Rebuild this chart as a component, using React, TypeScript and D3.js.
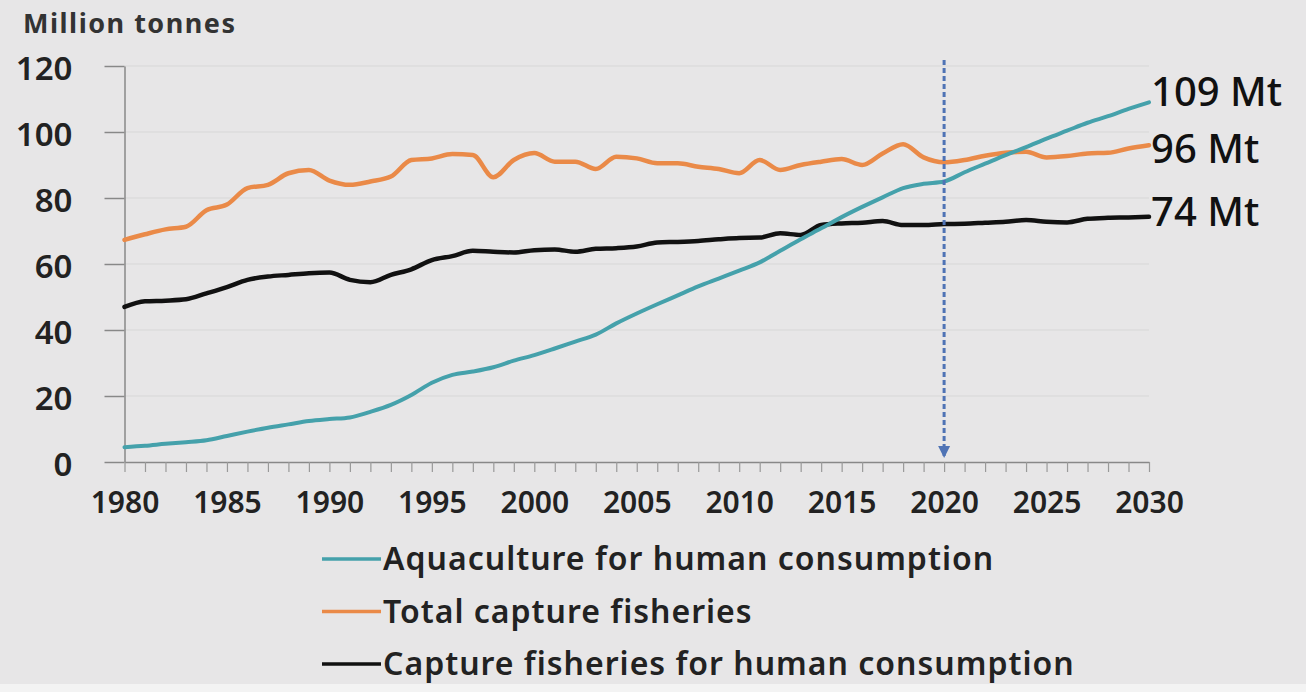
import { useEffect, useRef } from 'react'
import * as d3 from 'd3'

const years = d3.range(1980, 2031)

const aquaculture = [
  4.5, 4.9, 5.5, 6.0, 6.6, 7.9, 9.2, 10.4, 11.4, 12.4,
  13.0, 13.5, 15.2, 17.3, 20.3, 24.0, 26.4, 27.4, 28.7, 30.7,
  32.4, 34.4, 36.5, 38.6, 42.0, 45.0, 47.8, 50.5, 53.2, 55.6,
  58.0, 60.5, 64.0, 67.5, 70.8, 74.2, 77.3, 80.2, 83.0, 84.3,
  85.0, 87.8, 90.4, 93.0, 95.4, 98.0, 100.4, 102.8, 104.8, 107.0, 109.0
]

const totalCapture = [
  67.3, 69.0, 70.5, 71.3, 76.3, 78.0, 83.0, 84.0, 87.5, 88.5,
  85.3, 84.0, 85.0, 86.5, 91.5, 92.0, 93.3, 93.0, 86.3, 91.5,
  93.6, 91.0, 91.0, 88.8, 92.5, 92.0, 90.5, 90.5, 89.5, 88.8,
  87.5, 91.5, 88.5, 90.0, 91.0, 91.8, 90.0, 93.5, 96.3, 92.3,
  90.8, 91.5, 92.8, 93.7, 94.0, 92.3, 92.7, 93.5, 93.7, 95.0, 96.0
]

const captureHuman = [
  47.0, 48.7, 48.9, 49.3, 51.1, 53.0, 55.2, 56.2, 56.7, 57.2,
  57.4, 55.2, 54.5, 56.7, 58.4, 61.2, 62.4, 64.0, 63.7, 63.5,
  64.2, 64.4, 63.7, 64.6, 64.8, 65.3, 66.5, 66.7, 67.0, 67.5,
  67.9, 68.0, 69.3, 68.8, 71.8, 72.3, 72.5, 73.0, 71.8, 71.8,
  72.1, 72.2, 72.5, 72.8, 73.3, 72.8, 72.6, 73.7, 74.0, 74.1, 74.3
]

const yTicks = [0, 20, 40, 60, 80, 100, 120]
const xLabelYears = [1980, 1985, 1990, 1995, 2000, 2005, 2010, 2015, 2020, 2025, 2030]
const endLabels = ['109 Mt', '96 Mt', '74 Mt']
const legendLabels = [
  'Aquaculture for human consumption',
  'Total capture fisheries',
  'Capture fisheries for human consumption'
]
const markerYear = 2020

const W = 1306
const H = 692
const FONT = '"Noto Sans", "DejaVu Sans", sans-serif'

export default function App() {
  const svgRef = useRef<SVGSVGElement>(null)

  useEffect(() => {
    if (!svgRef.current) return
    const svg = d3.select(svgRef.current)
    svg.selectAll('*').remove()

    const margin = { top: 66, right: 157, bottom: 230, left: 124.5 }

    const x = d3.scaleLinear()
      .domain([1980, 2030])
      .range([margin.left, W - margin.right])

    const y = d3.scaleLinear()
      .domain([0, 120])
      .range([H - margin.bottom, margin.top])

    // background
    svg.append('rect')
      .attr('width', W).attr('height', H)
      .attr('fill', '#e7e6e7')
    svg.append('rect')
      .attr('y', 684).attr('width', W).attr('height', H - 684)
      .attr('fill', '#f3f3f3')

    // grid lines
    svg.append('g')
      .selectAll('line')
      .data(yTicks.filter(d => d > 0))
      .join('line')
      .attr('x1', x(1980)).attr('x2', x(2030))
      .attr('y1', d => y(d)).attr('y2', d => y(d))
      .attr('stroke', '#d7d7d7')
      .attr('stroke-width', 1)

    // y axis
    const yAxis = svg.append('g')
      .attr('transform', `translate(${x(1980)},0)`)
      .call(d3.axisLeft(y).tickValues(yTicks).tickSize(20).tickSizeOuter(0).tickPadding(32))
    yAxis.select('.domain').attr('stroke', '#888').attr('stroke-width', 1.5)
    yAxis.selectAll('.tick line').attr('stroke', '#888').attr('stroke-width', 1.5)
    yAxis.selectAll('text')
      .attr('dy', '0.42em')
      .style('font-family', FONT)
      .style('font-size', '33px')
      .style('font-weight', 600)
      .style('fill', '#222')

    // x axis
    const xAxis = svg.append('g')
      .attr('transform', `translate(0,${y(0)})`)
      .call(d3.axisBottom(x).tickValues(years).tickSize(10).tickSizeOuter(0)
        .tickFormat(d => (xLabelYears.includes(+d) ? String(d) : '')))
    xAxis.select('.domain').attr('stroke', '#888').attr('stroke-width', 1.5)
    xAxis.selectAll('.tick line').attr('stroke', '#999').attr('stroke-width', 1.2)
    xAxis.selectAll('text')
      .attr('y', 51)
      .attr('dy', 0)
      .style('font-family', FONT)
      .style('font-size', '30px')
      .style('font-weight', 600)
      .style('fill', '#222')

    // series
    const series = [
      { values: aquaculture, color: '#45a1ab', width: 4 },
      { values: totalCapture, color: '#ea8a48', width: 4.5 },
      { values: captureHuman, color: '#111', width: 4.5 }
    ]
    const labelShift = [-7, 7, -2]

    const line = d3.line<number>()
      .x((_, i) => x(years[i]))
      .y(d => y(d))
      .curve(d3.curveMonotoneX)

    // draw order: orange, black, teal on top
    ;[1, 2, 0].forEach(si => {
      const s = series[si]
      svg.append('path')
        .datum(s.values)
        .attr('fill', 'none')
        .attr('stroke', s.color)
        .attr('stroke-width', s.width)
        .attr('stroke-linejoin', 'round')
        .attr('stroke-linecap', 'round')
        .attr('d', line)
    })

    // end labels
    series.forEach((s, i) => {
      svg.append('text')
        .attr('x', x(2030) + 2)
        .attr('y', y(s.values[s.values.length - 1]) + labelShift[i])
        .attr('dominant-baseline', 'middle')
        .style('font-family', FONT)
        .style('font-size', '40px')
        .style('font-weight', 500)
        .style('fill', '#111')
        .text(endLabels[i])
    })

    // 2020 marker
    svg.append('line')
      .attr('x1', x(markerYear)).attr('x2', x(markerYear))
      .attr('y1', y(120) - 6).attr('y2', y(0) - 6)
      .attr('stroke', '#4f73b5')
      .attr('stroke-width', 3)
      .attr('stroke-dasharray', '5,3')
    svg.append('path')
      .attr('d', `M${x(markerYear) - 6},${y(0) - 16} L${x(markerYear) + 6},${y(0) - 16} L${x(markerYear)},${y(0) - 4} Z`)
      .attr('fill', '#4f73b5')

    // unit label
    svg.append('text')
      .attr('x', 23).attr('y', 33)
      .style('font-family', FONT)
      .style('font-size', '27px')
      .style('font-weight', 'bold')
      .style('letter-spacing', '1.5px')
      .style('fill', '#333')
      .text('Million tonnes')

    // legend
    const legend = svg.append('g')
    series.forEach((s, i) => {
      const ly = 559 + i * 52.5
      legend.append('line')
        .attr('x1', 322).attr('x2', 381)
        .attr('y1', ly).attr('y2', ly)
        .attr('stroke', s.color)
        .attr('stroke-width', 3.5)
      legend.append('text')
        .attr('x', 383).attr('y', ly + 11)
        .style('font-family', FONT)
        .style('font-size', '32px')
        .style('font-weight', 600)
        .style('letter-spacing', '1px')
        .style('fill', '#222')
        .text(legendLabels[i])
    })
  }, [])

  return (
    <svg
      ref={svgRef}
      width={W}
      height={H}
      style={{ position: 'absolute', left: 0, top: 0, display: 'block' }}
    />
  )
}
